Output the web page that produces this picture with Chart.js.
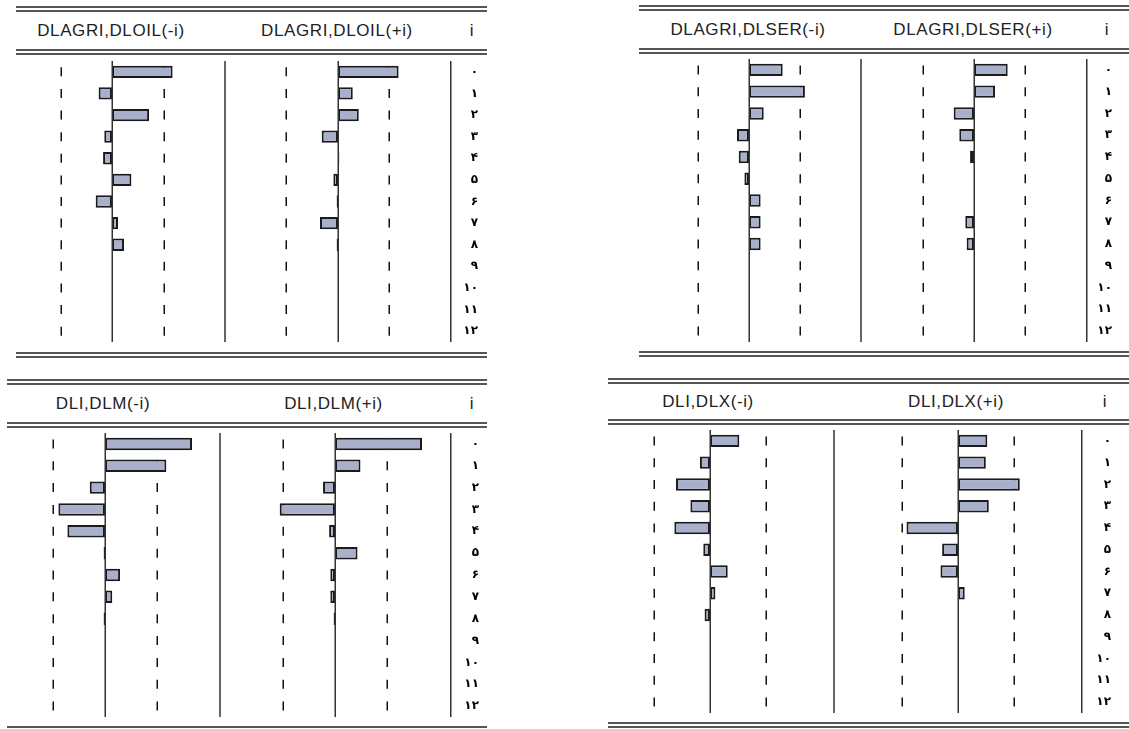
<!DOCTYPE html>
<html>
<head>
<meta charset="utf-8">
<title>Cross-correlograms</title>
<script src="https://cdn.jsdelivr.net/npm/chart.js@4.4.1/dist/chart.umd.min.js"></script>
<style>
  html, body { margin: 0; padding: 0; background: #fff; }
  #stage { position: relative; width: 1129px; height: 729px; overflow: hidden; background: #fff; }
  .rule { position: absolute; height: 2px; background: #555; }
  .title {
    position: absolute;
    font-family: "Liberation Sans", Arial, sans-serif;
    font-size: 17px;
    letter-spacing: 0.6px;
    color: #222;
    transform: translate(-50%, -50%);
    white-space: nowrap;
  }
  canvas { position: absolute; }
</style>
</head>
<body>
<div id="stage"></div>
<script>
// Lag index labels (Persian digits)
const lagLabels = ['۰', '۱', '۲', '۳', '۴', '۵', '۶', '۷', '۸', '۹', '۱۰', '۱۱', '۱۲'];

// Approximate two-standard-error band drawn as dashed guides
const bandLimit = 0.3;

// Cross-correlations, lags 0..12 (no estimate beyond lag 8)
const dlagriDloilMinus = [0.353, -0.078, 0.216, -0.045, -0.052, 0.113, -0.095, 0.035, 0.070, null, null, null, null];
const dlagriDloilPlus  = [0.353, 0.086, 0.121, -0.095, 0.008, -0.027, -0.008, -0.105, -0.008, null, null, null, null];

const dlagriDlserMinus = [0.197, 0.327, 0.086, -0.070, -0.060, -0.027, 0.068, 0.068, 0.068, null, null, null, null];
const dlagriDlserPlus  = [0.197, 0.123, -0.119, -0.086, -0.023, 0, 0, -0.051, -0.043, null, null, null, null];

const dliDlmMinus = [0.502, 0.354, -0.088, -0.269, -0.217, -0.008, 0.087, 0.042, -0.008, null, null, null, null];
const dliDlmPlus  = [0.502, 0.147, -0.069, -0.319, -0.034, 0.130, -0.027, -0.027, -0.008, null, null, null, null];

const dliDlxMinus = [0.157, -0.054, -0.182, -0.105, -0.191, -0.036, 0.095, 0.029, -0.029, null, null, null, null];
const dliDlxPlus  = [0.157, 0.149, 0.331, 0.165, -0.276, -0.085, -0.094, 0.036, 0, null, null, null, null];

// Column headings
const headingsAgriOil = ['DLAGRI,DLOIL(-i)', 'DLAGRI,DLOIL(+i)', 'i'];
const headingsAgriSer = ['DLAGRI,DLSER(-i)', 'DLAGRI,DLSER(+i)', 'i'];
const headingsIM      = ['DLI,DLM(-i)', 'DLI,DLM(+i)', 'i'];
const headingsIX      = ['DLI,DLX(-i)', 'DLI,DLX(+i)', 'i'];

// Page layout of the four tables
const panels = [
  { headings: headingsAgriOil, minus: dlagriDloilMinus, plus: dlagriDloilPlus,
    box: { left: 16, right: 487 }, rules: [7, 50, 353],
    headX: [111, 337, 472], headY: 30.5,
    plot: { top: 61, bottom: 342 },
    colA: { left: 16, right: 226, zero: 112 },
    colB: { left: 226, sep: 451, right: 478, zero: 338 },
    dashPx: 51.5 },
  { headings: headingsAgriSer, minus: dlagriDlserMinus, plus: dlagriDlserPlus,
    box: { left: 639, right: 1129 }, rules: [6, 49, 352],
    headX: [748, 973, 1107], headY: 29.5,
    plot: { top: 59, bottom: 342 },
    colA: { left: 639, right: 862, zero: 749 },
    colB: { left: 862, sep: 1087, right: 1112, zero: 974 },
    dashPx: 51.3 },
  { headings: headingsIM, minus: dliDlmMinus, plus: dliDlmPlus,
    box: { left: 7, right: 487 }, rules: [380, 423, 727],
    headX: [103, 333.5, 472], headY: 403.5,
    plot: { top: 433, bottom: 717 },
    colA: { left: 7, right: 221, zero: 105 },
    colB: { left: 221, sep: 451, right: 479, zero: 335 },
    dashPx: 52 },
  { headings: headingsIX, minus: dliDlxMinus, plus: dliDlxPlus,
    box: { left: 608, right: 1129 }, rules: [379, 420, 723],
    headX: [708, 956, 1105], headY: 401.5,
    plot: { top: 430, bottom: 713 },
    colA: { left: 608, right: 835, zero: 710 },
    colB: { left: 835, sep: 1082, right: 1111, zero: 958 },
    dashPx: 56 }
];

const stage = document.getElementById('stage');
const indexFont = { family: 'DejaVu Sans', size: 12, weight: 'bold' };

// width of the widest index label, used to right-align the lag column
const measureCtx = document.createElement('canvas').getContext('2d');
measureCtx.font = 'bold ' + indexFont.size + 'px "' + indexFont.family + '"';
const widestIndex = Math.max.apply(null, lagLabels.map(t => measureCtx.measureText(t).width));

// Zero line, dashed ±band guides and column separator
const guides = {
  id: 'guides',
  beforeDatasetsDraw(chart, args, opts) {
    const { ctx, scales: { x, y } } = chart;
    ctx.save();
    ctx.strokeStyle = '#111';
    ctx.lineWidth = 1.5;
    chart.data.labels.forEach((_, i) => {
      const yc = y.getPixelForValue(i);
      [-opts.bound, opts.bound].forEach(b => {
        const xp = Math.round(x.getPixelForValue(b)) + 0.25;
        ctx.beginPath();
        ctx.moveTo(xp, yc - 4.5);
        ctx.lineTo(xp, yc + 4.5);
        ctx.stroke();
      });
    });
    ctx.restore();
  },
  afterDatasetsDraw(chart, args, opts) {
    const { ctx, chartArea: { top, bottom, right }, scales: { x } } = chart;
    ctx.save();
    ctx.strokeStyle = '#333';
    ctx.lineWidth = 1.5;
    const x0 = Math.round(x.getPixelForValue(0)) + 0.25;
    ctx.beginPath();
    ctx.moveTo(x0, top);
    ctx.lineTo(x0, bottom);
    ctx.stroke();
    if (opts.separator) {
      ctx.beginPath();
      ctx.moveTo(right - 1, top);
      ctx.lineTo(right - 1, bottom);
      ctx.stroke();
    }
    ctx.restore();
  }
};

function addRule(left, right, y) {
  const d = document.createElement('div');
  d.className = 'rule';
  d.style.left = left + 'px';
  d.style.width = (right - left) + 'px';
  d.style.top = (y - 1) + 'px';
  stage.appendChild(d);
}

function addHeading(text, x, y) {
  const d = document.createElement('div');
  d.className = 'title';
  d.textContent = text;
  d.style.left = x + 'px';
  d.style.top = y + 'px';
  stage.appendChild(d);
}

function addColumn(values, col, plot, dashPx, withIndex) {
  const canvas = document.createElement('canvas');
  const width = col.right - col.left;
  const height = plot.bottom - plot.top;
  canvas.width = width;
  canvas.height = height;
  canvas.style.left = col.left + 'px';
  canvas.style.top = plot.top + 'px';
  canvas.style.width = width + 'px';
  canvas.style.height = height + 'px';
  stage.appendChild(canvas);

  const areaRight = withIndex ? col.sep : col.right;
  const xMin = (col.left - col.zero) / dashPx * bandLimit;
  const xMax = (areaRight - col.zero) / dashPx * bandLimit;

  const yScale = withIndex ? {
    type: 'category',
    position: 'right',
    offset: true,
    grid: { display: false, drawTicks: false },
    border: { display: true, color: '#333', width: 1.5 },
    ticks: {
      autoSkip: false,
      crossAlign: 'far',
      padding: Math.max(0, (col.right - col.sep) - widestIndex),
      color: '#000',
      font: indexFont
    },
    afterFit(scale) {
      scale.width = col.right - col.sep;
      scale.paddingTop = 0;
      scale.paddingBottom = 0;
    }
  } : { type: 'category', display: false, offset: true };

  new Chart(canvas, {
    type: 'bar',
    data: {
      labels: lagLabels,
      datasets: [{
        data: values,
        backgroundColor: '#a9b0cc',
        borderColor: '#1a1a1a',
        borderWidth: 2,
        borderSkipped: false,
        barPercentage: 0.57,
        categoryPercentage: 1
      }]
    },
    options: {
      indexAxis: 'y',
      responsive: false,
      maintainAspectRatio: false,
      animation: false,
      devicePixelRatio: 1,
      layout: { padding: 0 },
      events: [],
      plugins: {
        legend: { display: false },
        tooltip: { enabled: false },
        guides: { bound: bandLimit, separator: !withIndex }
      },
      scales: {
        x: { type: 'linear', display: false, min: xMin, max: xMax, bounds: 'data' },
        y: yScale
      }
    },
    plugins: [guides]
  });
}

panels.forEach(p => {
  p.rules.forEach(y => {
    addRule(p.box.left, p.box.right, y);
    addRule(p.box.left, p.box.right, y + 4);
  });
  p.headings.forEach((t, i) => addHeading(t, p.headX[i], p.headY));
  addColumn(p.minus, p.colA, p.plot, p.dashPx, false);
  addColumn(p.plus, p.colB, p.plot, p.dashPx, true);
});
</script>
</body>
</html>
